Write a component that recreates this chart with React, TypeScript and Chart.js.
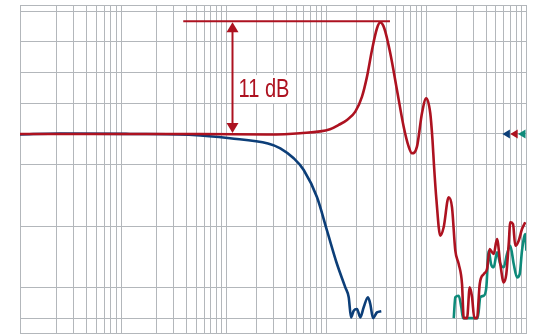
import { useEffect, useRef } from "react";
import { Chart, registerables } from "chart.js";

Chart.register(...registerables);

// Frequency axis (Hz, logarithmic) and level axis (dB)
const X_MIN = 8.65;
const X_MAX = 1000000;
const Y_MIN = -19.45;
const Y_MAX = 12.6;

const xGridValues = [
  8.65, 20, 30, 40, 50, 60, 70, 80, 90,
  200, 300, 400, 500, 600, 700, 800, 900, 1000,
  2000, 3000, 4000, 5000, 6000, 7000, 8000, 9000, 10000,
  20000, 30000, 40000, 50000, 60000, 70000, 80000, 90000, 100000,
  200000, 300000, 400000, 500000, 600000, 700000, 800000, 900000, 1000000,
];
const yGridValues = [12.6, 12, 9, 6, 3, 0, -3, -9, -15, -18, -19.45];

const redFreq = [
  8.65, 55, 547, 2560, 5480, 10940, 13360, 16180, 19590, 22860,
  25650, 28780, 32290, 34830, 38190, 43850, 51170, 59700, 66990, 72280,
  81100, 91000, 100500, 110200, 116000, 120000, 127000, 138700, 150000, 168300,
  181800, 196200, 212200, 229000, 238200, 257000, 273500, 288400, 304100, 323600,
  344400, 377600, 407400, 433500, 457100, 475300, 512900, 553400, 598400, 635300,
  671400, 696600, 741300, 781600, 845300, 912000, 984000,
];
const redDb = [
  0, 0, 0, -0.05, 0.07, 0.46, 0.88, 1.37, 2.18, 3.65,
  5.6, 8.21, 10.33, 10.9, 10.33, 7.89, 4.3, 0.71, -1.24, -1.89,
  -1.24, 2.02, 3.49, 2.02, -0.6, -3.03, -6.45, -9.94, -9.12, -6.19,
  -7.17, -11.41, -12.71, -14.66, -18, -18, -14.99, -15.93, -18, -18,
  -14.66, -13.69, -13.2, -11.24, -11.56, -11.73, -10.26, -12.71, -14.5, -13.69,
  -10.75, -8.63, -8.8, -10.92, -10.43, -9.29, -8.63,
];

const blueFreq = [
  8.65, 21.8, 109, 466, 1091, 2618, 3480, 4740, 5970, 8110,
  10210, 12850, 15560, 16830, 17750, 18880, 20370, 21980, 23770, 26240,
  27670, 29440, 32290, 35650,
];
const blueDb = [
  -0.05, 0.05, 0, -0.1, -0.42, -0.93, -1.4, -2.38, -3.52, -6.19,
  -9.45, -12.71, -14.99, -15.96, -17.92, -17.27, -17.11, -17.92, -16.94, -15.96,
  -16.62, -17.99, -17.43, -17.33,
];

const tealFreq = [
  189300, 196200, 212200, 225400, 234400, 328900, 349100, 377600, 400900, 423600,
  446700, 475300, 512900, 553400, 598400, 645700, 696600, 753400, 812800, 865000,
  912000, 984000, 1010000,
];
const tealDb = [
  -18, -15.96, -15.81, -16.94, -18, -18, -15.96, -15.81, -14.99, -11.41,
  -12.71, -13.03, -11.56, -12.71, -13.03, -11.73, -10.92, -12.71, -14.01, -13.69,
  -11.41, -9.78, -11.4,
];

// Annotation values
const peakDb = 11;
const refDb = 0;
const peakLineFrom = 372;
const peakLineTo = 43550;
const arrowFreq = 1151;
const labelText = "11 dB";
const labelBaselineDb = 3.6;

const RED = "#ad1220";
const BLUE = "#0c3e78";
const TEAL = "#0e8a7a";
const GRID = "#b3b7bb";

const toPoints = (fs: number[], ds: number[]) => fs.map((f, i) => ({ x: f, y: ds[i] }));

const annotationPlugin = {
  id: "peakAnnotation",
  afterDatasetsDraw(chart: any) {
    const { ctx, scales, chartArea } = chart;
    const xs = scales.x;
    const ys = scales.y;
    const yPeak = ys.getPixelForValue(peakDb);
    const yRef = ys.getPixelForValue(refDb);
    const xa = Math.round(xs.getPixelForValue(arrowFreq)) + 0.5;
    ctx.save();
    // peak line
    ctx.strokeStyle = RED;
    ctx.lineWidth = 2;
    ctx.beginPath();
    ctx.moveTo(xs.getPixelForValue(peakLineFrom), yPeak);
    ctx.lineTo(xs.getPixelForValue(peakLineTo), yPeak);
    ctx.stroke();
    // arrow shaft
    const head = 10;
    const hw = 6;
    ctx.beginPath();
    ctx.moveTo(xa, yPeak + head);
    ctx.lineTo(xa, yRef - head);
    ctx.stroke();
    ctx.fillStyle = RED;
    ctx.beginPath();
    ctx.moveTo(xa, yPeak + 1);
    ctx.lineTo(xa - hw, yPeak + head + 1);
    ctx.lineTo(xa + hw, yPeak + head + 1);
    ctx.closePath();
    ctx.fill();
    ctx.beginPath();
    ctx.moveTo(xa, yRef - 1);
    ctx.lineTo(xa - hw, yRef - head - 1);
    ctx.lineTo(xa + hw, yRef - head - 1);
    ctx.closePath();
    ctx.fill();
    // label with white box
    const yb = ys.getPixelForValue(labelBaselineDb);
    const tx = xa + 6;
    ctx.fillStyle = "#ffffff";
    ctx.fillRect(tx - 1.5, yb - 22, 54, 28);
    ctx.fillStyle = RED;
    ctx.font = "26px 'Liberation Sans', Arial, sans-serif";
    ctx.textBaseline = "alphabetic";
    ctx.textAlign = "left";
    ctx.fillText(labelText, tx, yb, 51);
    // reference level markers at right edge
    const markers = [BLUE, RED, TEAL];
    markers.forEach((c, i) => {
      const right = chartArea.right - 0.5 - (2 - i) * 7.8;
      ctx.fillStyle = c;
      ctx.beginPath();
      ctx.moveTo(right - 7.5, yRef);
      ctx.lineTo(right, yRef - 4.5);
      ctx.lineTo(right, yRef + 4.5);
      ctx.closePath();
      ctx.fill();
    });
    ctx.restore();
  },
};

export default function App() {
  const ref = useRef<HTMLCanvasElement | null>(null);
  useEffect(() => {
    if (!ref.current) return;
    const lineDs = (label: string, fs: number[], ds: number[], color: string) => ({
      label,
      data: toPoints(fs, ds),
      borderColor: color,
      backgroundColor: color,
      borderWidth: 2.6,
      pointRadius: 0,
      cubicInterpolationMode: "monotone" as const,
      fill: false,
    });
    const chart = new Chart(ref.current, {
      type: "line",
      data: {
        datasets: [
          lineDs("red", redFreq, redDb, RED),
          lineDs("blue", blueFreq, blueDb, BLUE),
          lineDs("teal", tealFreq, tealDb, TEAL),
        ],
      },
      options: {
        animation: false,
        responsive: false,
        layout: { padding: { left: 20, top: 5, right: 11, bottom: 1 } },
        plugins: { legend: { display: false }, tooltip: { enabled: false } },
        scales: {
          x: {
            type: "logarithmic",
            min: X_MIN,
            max: X_MAX,
            afterBuildTicks: (s: any) => {
              s.ticks = xGridValues.map((v) => ({ value: v }));
            },
            ticks: { display: false, autoSkip: false },
            grid: { color: GRID, lineWidth: 1, drawTicks: false },
            border: { display: true, color: GRID },
          },
          y: {
            type: "linear",
            min: Y_MIN,
            max: Y_MAX,
            afterBuildTicks: (s: any) => {
              s.ticks = yGridValues.map((v) => ({ value: v }));
            },
            ticks: { display: false, autoSkip: false },
            grid: { color: GRID, lineWidth: 1, drawTicks: false },
            border: { display: true, color: GRID },
          },
        },
      },
      plugins: [annotationPlugin],
    });
    return () => chart.destroy();
  }, []);
  return (
    <div style={{ position: "fixed", left: 0, top: 0, width: 537, height: 334, background: "#fff" }}>
      <canvas ref={ref} width={537} height={334} style={{ display: "block" }} />
    </div>
  );
}
